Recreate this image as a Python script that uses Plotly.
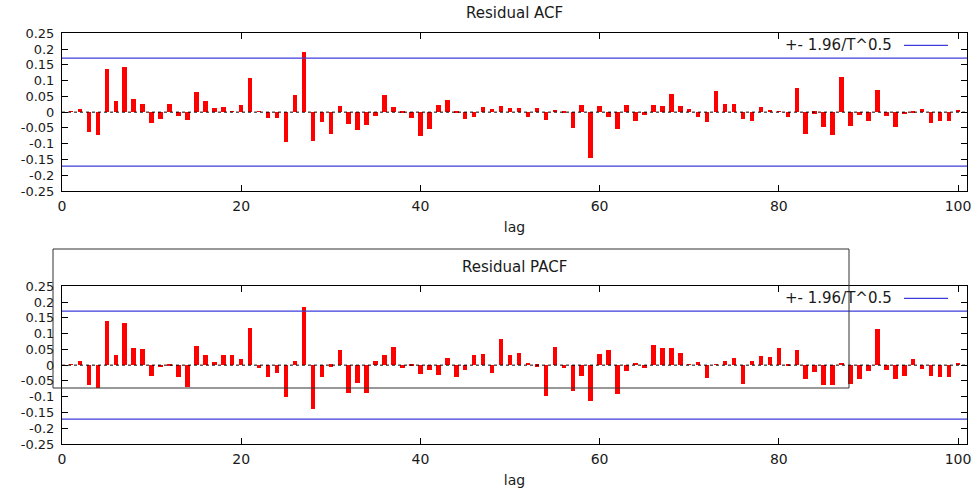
import plotly.graph_objects as go

lags = list(range(1, 101))
acf = [0.002, 0.0105, -0.063, -0.072, 0.136, 0.033, 0.142, 0.040, 0.024, -0.035,
       -0.023, 0.026, -0.014, -0.026, 0.064, 0.035, 0.013, 0.015, 0.002, 0.021,
       0.107, 0.001, -0.019, -0.018, -0.096, 0.052, 0.189, -0.093, -0.033, -0.069,
       0.020, -0.039, -0.059, -0.042, -0.014, 0.054, 0.014, -0.004, -0.019, -0.078,
       -0.054, 0.022, 0.039, -0.001, -0.024, -0.015, 0.014, 0.008, 0.017, 0.011,
       0.013, -0.016, 0.011, -0.027, 0.005, -0.002, -0.051, 0.023, -0.147, 0.020,
       -0.016, -0.054, 0.023, -0.030, -0.011, 0.021, 0.017, 0.056, 0.019, 0.009,
       -0.016, -0.033, 0.066, 0.026, 0.024, -0.023, -0.030, 0.014, 0.007, 0.002,
       -0.016, 0.076, -0.069, -0.006, -0.047, -0.073, 0.112, -0.044, -0.010, -0.030,
       0.069, -0.014, -0.047, -0.008, -0.002, 0.008, -0.034, -0.030, -0.028, 0.007]
pacf = [0.002, 0.011, -0.064, -0.074, 0.138, 0.030, 0.132, 0.053, 0.049, -0.035,
        -0.008, -0.003, -0.038, -0.070, 0.061, 0.030, 0.008, 0.031, 0.030, 0.017,
        0.117, -0.009, -0.039, -0.026, -0.103, 0.011, 0.184, -0.140, -0.039, -0.006,
        0.047, -0.088, -0.059, -0.088, 0.012, 0.031, 0.057, -0.011, -0.001, -0.028,
        -0.016, -0.033, 0.023, -0.037, -0.015, 0.030, 0.036, -0.026, 0.081, 0.030,
        0.039, 0.004, -0.006, -0.098, 0.058, -0.011, -0.084, -0.035, -0.116, 0.033,
        0.046, -0.092, -0.020, 0.005, -0.011, 0.062, 0.052, 0.053, 0.038, 0.001,
        0.009, -0.041, 0.001, 0.011, 0.022, -0.060, 0.013, 0.028, 0.025, 0.052,
        -0.004, 0.047, -0.046, -0.024, -0.064, -0.063, 0.005, -0.061, -0.044, -0.018,
        0.114, -0.017, -0.045, -0.036, 0.018, -0.014, -0.034, -0.039, -0.038, 0.004]
band = 0.171
x_range = [0, 101]
y_tickvals = [0.25, 0.2, 0.15, 0.1, 0.05, 0, -0.05, -0.1, -0.15, -0.2, -0.25]
y_ticktext = ["0.25", "0.2", "0.15", "0.1", "0.05", "0", "-0.05", "-0.1", "-0.15", "-0.2", "-0.25"]
x_tickvals = [0, 20, 40, 60, 80, 100]
titles = ["Residual ACF", "Residual PACF"]
legend_text = "+- 1.96/T^0.5"

W, H = 979, 489
FONT = "DejaVu Sans"
TXT = "#1a1a1a"
BLUE = "#3c3cdc"

def px(v):
    return v / W

def py(v):
    return 1 - v / H

fig = go.Figure()

panels = [
    dict(vals=acf, xa="x", ya="y", top=33.3, bot=191.0, title_y=13),
    dict(vals=pacf, xa="x2", ya="y2", top=286.3, bot=444.0, title_y=267),
]

for i, p in enumerate(panels):
    fig.add_trace(go.Bar(x=lags, y=p["vals"], width=0.5, marker=dict(color="#ff0000", line=dict(width=0)),
                         xaxis=p["xa"], yaxis=p["ya"], showlegend=False))
    for s in (band, -band):
        fig.add_trace(go.Scatter(x=x_range, y=[s, s], mode="lines", line=dict(color=BLUE, width=1.2),
                                 xaxis=p["xa"], yaxis=p["ya"], showlegend=False, hoverinfo="skip"))
    fig.add_trace(go.Scatter(x=x_range, y=[0, 0], mode="lines", line=dict(color="#000000", width=1, dash="dot"),
                             xaxis=p["xa"], yaxis=p["ya"], showlegend=False, hoverinfo="skip"))

axis_common = dict(showline=True, linecolor="black", linewidth=1, mirror="ticks", ticks="inside",
                   ticklen=6, tickcolor="black", showgrid=False, zeroline=False, automargin=False)

xdom = [px(62), px(967)]
layout = dict(
    width=W, height=H, margin=dict(l=0, r=0, t=0, b=0, autoexpand=False),
    paper_bgcolor="white", plot_bgcolor="white", showlegend=False,
    font=dict(family=FONT, size=15, color=TXT),
    bargap=0,
)
for i, p in enumerate(panels):
    sx = "" if i == 0 else "2"
    layout["xaxis" + sx] = dict(axis_common, domain=xdom, range=x_range, tickvals=x_tickvals,
                                anchor="y" + sx, ticklabelstandoff=2,
                                tickfont=dict(family=FONT, size=14, color=TXT),
                                title=dict(text="lag", font=dict(family=FONT, size=14, color=TXT), standoff=9))
    layout["yaxis" + sx] = dict(axis_common, domain=[py(p["bot"]), py(p["top"])], range=[-0.25, 0.25],
                                tickvals=y_tickvals, ticktext=y_ticktext, anchor="x" + sx,
                                tickfont=dict(family=FONT, size=13, color=TXT),
                                ticklabelstandoff=4)
fig.update_layout(**layout)

for i, p in enumerate(panels):
    fig.add_annotation(text=titles[i], x=px(514), y=py(p["title_y"]), xref="paper", yref="paper",
                       showarrow=False, xanchor="center", yanchor="middle",
                       font=dict(family=FONT, size=15, color=TXT))
    ly = p["top"] + 12
    fig.add_annotation(text=legend_text, x=px(894), y=py(ly), xref="paper", yref="paper",
                       showarrow=False, xanchor="right", yanchor="middle",
                       font=dict(family=FONT, size=15, color=TXT))
    fig.add_shape(type="line", xref="paper", yref="paper", x0=px(904), x1=px(948), y0=py(ly), y1=py(ly),
                  line=dict(color=BLUE, width=1.2))

# stray frame overlapping the PACF panel
fig.add_shape(type="rect", xref="paper", yref="paper", x0=px(53), x1=px(849), y0=py(388), y1=py(249),
              line=dict(color="#333333", width=1), fillcolor="rgba(0,0,0,0)", layer="above")

fig.write_html("out.html")
